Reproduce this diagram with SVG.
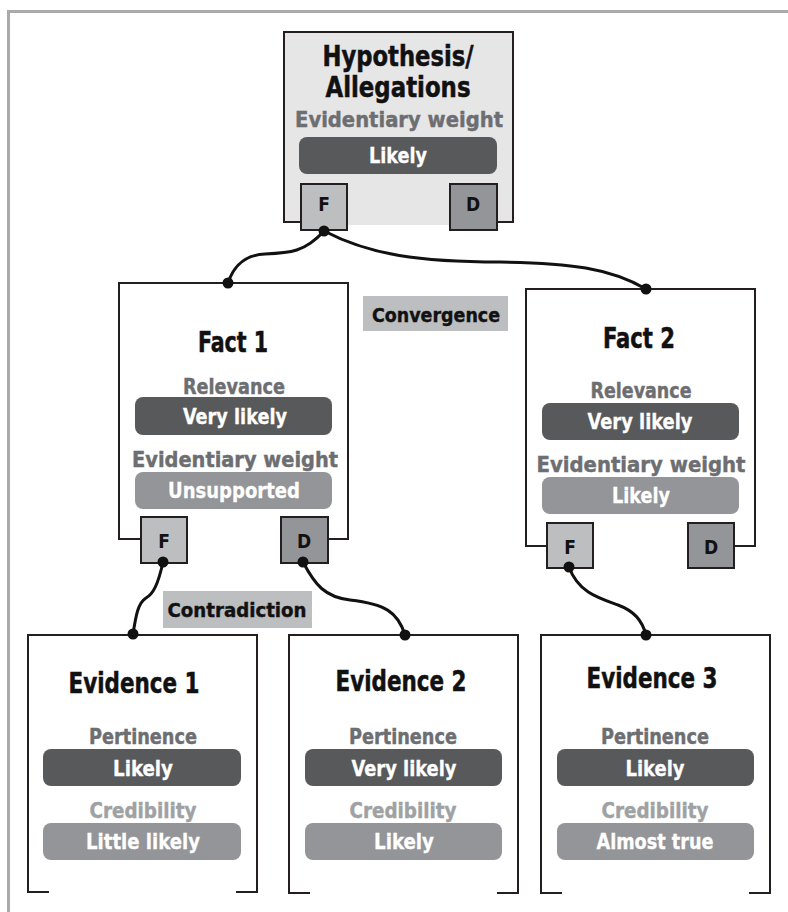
<svg xmlns="http://www.w3.org/2000/svg" width="788" height="912" viewBox="0 0 788 912">
<style>
text{font-family:"Liberation Sans Narrow","DejaVu Sans Condensed","Liberation Sans",Arial,sans-serif;font-weight:bold;text-anchor:middle}
.box{fill:#fff;stroke:#231f20;stroke-width:2}
.hyp{fill:#e6e6e6;stroke:#231f20;stroke-width:2}
.edge{fill:none;stroke:#231f20;stroke-width:2}
.title{fill:#111;font-size:29px;stroke:#111;stroke-width:0.5}
.lab{fill:#6d6e71;font-size:21px;stroke:#6d6e71;stroke-width:0.4}
.lab2{fill:#a0a1a3;font-size:21px;stroke:#a0a1a3;stroke-width:0.4}
.pd{fill:#58595b}
.pl{fill:#939598}
.pt{fill:#fff;font-size:21px;stroke:#fff;stroke-width:0.3}
.fb{fill:#bcbec0;stroke:#231f20;stroke-width:2}
.db{fill:#939598;stroke:#231f20;stroke-width:2}
.port{fill:#111;font-size:19px}
.tag{fill:#bcbec0}
.tagt{fill:#111;font-size:20px;stroke:#111;stroke-width:0.4}
.conn{fill:none;stroke:#111;stroke-width:3}
.dot{fill:#111}
</style>
<path d="M8.5,912 V11.5 H788" fill="none" stroke="#aaaaaa" stroke-width="3"/>

<g id="hypothesis">
<rect class="hyp" x="284" y="32" width="229" height="190"/>
<rect x="301" y="215" width="196" height="10" fill="#e6e6e6"/>
<text class="title" x="398" y="66" font-size="28" textLength="151" lengthAdjust="spacingAndGlyphs">Hypothesis/</text>
<text class="title" x="398" y="97" font-size="28" textLength="145" lengthAdjust="spacingAndGlyphs">Allegations</text>
<text class="lab" x="399" y="127" textLength="208" lengthAdjust="spacingAndGlyphs">Evidentiary weight</text>
<rect class="pd" x="299" y="137" width="198" height="37" rx="8"/>
<text class="pt" x="398" y="163" textLength="58" lengthAdjust="spacingAndGlyphs">Likely</text>
<rect class="fb" x="301" y="184" width="46" height="46"/>
<text class="port" x="324" y="211">F</text>
<rect class="db" x="450" y="184" width="47" height="46"/>
<text class="port" x="473" y="211">D</text>
</g>

<g id="fact1">
<path class="edge" d="M141,539 H119 V283 H348 V539 H328"/>
<text class="title" x="233" y="352" font-size="30" textLength="70" lengthAdjust="spacingAndGlyphs">Fact 1</text>
<text class="lab" x="234" y="394" textLength="102" lengthAdjust="spacingAndGlyphs">Relevance</text>
<rect class="pd" x="135" y="397" width="197" height="38" rx="8"/>
<text class="pt" x="235" y="424" textLength="104" lengthAdjust="spacingAndGlyphs">Very likely</text>
<text class="lab" x="235" y="467" textLength="206" lengthAdjust="spacingAndGlyphs">Evidentiary weight</text>
<rect class="pl" x="135" y="472" width="197" height="37" rx="8"/>
<text class="pt" x="234" y="498" textLength="132" lengthAdjust="spacingAndGlyphs">Unsupported</text>
<rect class="fb" x="141" y="517" width="46" height="46"/>
<text class="port" x="164" y="548">F</text>
<rect class="db" x="281" y="517" width="47" height="46"/>
<text class="port" x="304" y="548">D</text>
</g>

<g id="fact2">
<path class="edge" d="M547,546 H526 V289 H755 V546 H734"/>
<text class="title" x="639" y="348" font-size="30" textLength="72" lengthAdjust="spacingAndGlyphs">Fact 2</text>
<text class="lab" x="641" y="398" textLength="101" lengthAdjust="spacingAndGlyphs">Relevance</text>
<rect class="pd" x="542" y="403" width="197" height="37" rx="8"/>
<text class="pt" x="640" y="429" textLength="105" lengthAdjust="spacingAndGlyphs">Very likely</text>
<text class="lab" x="641" y="472" textLength="209" lengthAdjust="spacingAndGlyphs">Evidentiary weight</text>
<rect class="pl" x="542" y="477" width="197" height="37" rx="8"/>
<text class="pt" x="641" y="503" textLength="58" lengthAdjust="spacingAndGlyphs">Likely</text>
<rect class="fb" x="547" y="523" width="46" height="45"/>
<text class="port" x="570" y="554">F</text>
<rect class="db" x="688" y="523" width="46" height="45"/>
<text class="port" x="711" y="554">D</text>
</g>

<g id="evidence1">
<path class="edge" d="M49,892 H28 V635 H257 V892 H236"/>
<text class="title" x="134" y="693" textLength="131" lengthAdjust="spacingAndGlyphs">Evidence 1</text>
<text class="lab" x="143" y="744" textLength="108" lengthAdjust="spacingAndGlyphs">Pertinence</text>
<rect class="pd" x="43" y="749" width="198" height="37" rx="8"/>
<text class="pt" x="143" y="776" textLength="60" lengthAdjust="spacingAndGlyphs">Likely</text>
<text class="lab2" x="143" y="818" textLength="107" lengthAdjust="spacingAndGlyphs">Credibility</text>
<rect class="pl" x="43" y="823" width="198" height="37" rx="8"/>
<text class="pt" x="143" y="849" textLength="114" lengthAdjust="spacingAndGlyphs">Little likely</text>
</g>

<g id="evidence2">
<path class="edge" d="M310,893 H289 V635 H518 V893 H497"/>
<text class="title" x="401" y="691" textLength="131" lengthAdjust="spacingAndGlyphs">Evidence 2</text>
<text class="lab" x="403" y="744" textLength="108" lengthAdjust="spacingAndGlyphs">Pertinence</text>
<rect class="pd" x="305" y="749" width="197" height="37" rx="8"/>
<text class="pt" x="404" y="776" textLength="105" lengthAdjust="spacingAndGlyphs">Very likely</text>
<text class="lab2" x="403" y="818" textLength="107" lengthAdjust="spacingAndGlyphs">Credibility</text>
<rect class="pl" x="305" y="823" width="197" height="37" rx="8"/>
<text class="pt" x="404" y="849" textLength="60" lengthAdjust="spacingAndGlyphs">Likely</text>
</g>

<g id="evidence3">
<path class="edge" d="M562,893 H541 V635 H770 V893 H749"/>
<text class="title" x="652" y="688" textLength="131" lengthAdjust="spacingAndGlyphs">Evidence 3</text>
<text class="lab" x="655" y="744" textLength="108" lengthAdjust="spacingAndGlyphs">Pertinence</text>
<rect class="pd" x="557" y="749" width="197" height="37" rx="8"/>
<text class="pt" x="655" y="776" textLength="59" lengthAdjust="spacingAndGlyphs">Likely</text>
<text class="lab2" x="655" y="818" textLength="107" lengthAdjust="spacingAndGlyphs">Credibility</text>
<rect class="pl" x="557" y="823" width="197" height="37" rx="8"/>
<text class="pt" x="655" y="849" textLength="117" lengthAdjust="spacingAndGlyphs">Almost true</text>
</g>

<g id="convergence">
<rect class="tag" x="363" y="296" width="145" height="35"/>
<text class="tagt" x="436" y="322" textLength="128" lengthAdjust="spacingAndGlyphs">Convergence</text>
</g>
<g id="contradiction">
<rect class="tag" x="163" y="591" width="149" height="37"/>
<text class="tagt" x="237" y="617" textLength="139" lengthAdjust="spacingAndGlyphs">Contradiction</text>
</g>

<g id="connectors">
<path class="conn" d="M324,231 C305,252 290,253 265,254 C245,255 234,265 228,283"/>
<path class="conn" d="M324,231 C370,255 420,262 500,262 C570,263 610,268 646,289"/>
<path class="conn" d="M163,562 C158,585 153,594 146,598 C138,603 136,615 133,634"/>
<path class="conn" d="M303,562 C315,585 325,597 350,600 C385,604 398,612 405,635"/>
<path class="conn" d="M569,567 C578,592 598,598 618,605 C634,611 642,620 646,635"/>
<circle class="dot" cx="324" cy="231" r="5.5"/>
<circle class="dot" cx="228" cy="283" r="5.5"/>
<circle class="dot" cx="646" cy="289" r="5.5"/>
<circle class="dot" cx="163" cy="562" r="5.5"/>
<circle class="dot" cx="133" cy="634" r="5.5"/>
<circle class="dot" cx="303" cy="562" r="5.5"/>
<circle class="dot" cx="405" cy="635" r="5.5"/>
<circle class="dot" cx="569" cy="567" r="5.5"/>
<circle class="dot" cx="646" cy="635" r="5.5"/>
</g>
</svg>
